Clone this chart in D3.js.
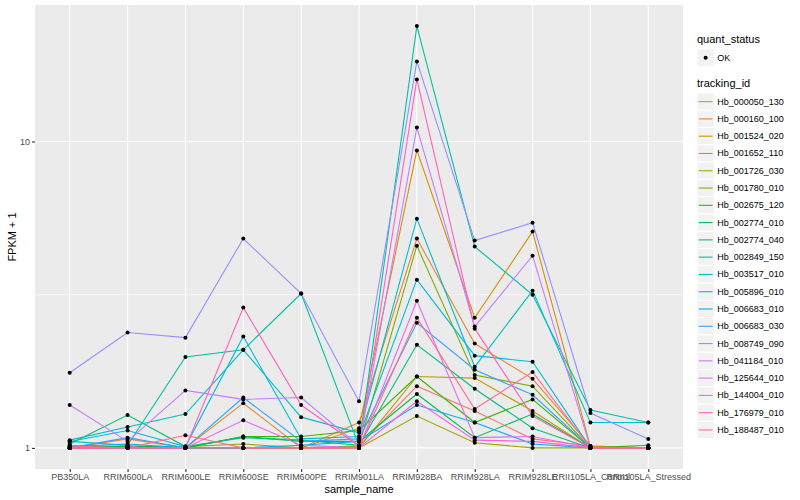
<!DOCTYPE html>
<html lang="en">
<head>
    <meta charset="UTF-8">
    <title>FPKM by sample</title>
    <style>
        body, html {
            margin: 0;
            overflow: hidden;
            background: #fff;
        }
        text {
            font-family: "Liberation Sans", Arial, sans-serif;
        }
    </style>
</head>
<body>

<script src="https://d3js.org/d3.v7.min.js"></script>

<script>
    // Samples along the x axis
    const categories = ["PB350LA", "RRIM600LA", "RRIM600LE", "RRIM600SE", "RRIM600PE", "RRIM901LA",
        "RRIM928BA", "RRIM928LA", "RRIM928LE", "RRII105LA_Control", "RRII105LA_Stressed"];

    const trackingIds = ["Hb_000050_130", "Hb_000160_100", "Hb_001524_020", "Hb_001652_110", "Hb_001726_030",
        "Hb_001780_010", "Hb_002675_120", "Hb_002774_010", "Hb_002774_040", "Hb_002849_150",
        "Hb_003517_010", "Hb_005896_010", "Hb_006683_010", "Hb_006683_030", "Hb_008749_090",
        "Hb_041184_010", "Hb_125644_010", "Hb_144004_010", "Hb_176979_010", "Hb_188487_010"];

    // ggplot default hue palette for 20 levels
    const lineColors = ["#F8766D", "#EA8331", "#D89000", "#C09B00", "#A3A500", "#7CAE00", "#39B600",
        "#00BB4E", "#00BF7D", "#00C1A3", "#00BFC4", "#00BAE0", "#00B0F6", "#35A2FF", "#9590FF",
        "#C77CFF", "#E76BF3", "#FA62DB", "#FF62BC", "#FF6C91"];

    // FPKM + 1, one row per tracking id, one column per sample
    const fpkmPlusOne = [
        [1.02, 1.00, 1.00, 1.00, 1.00, 1.015, 1.59, 1.32, 1.07, 1.015, 1.00],
        [1.00, 1.07, 1.00, 1.40, 1.00, 1.21, 4.82, 2.19, 1.68, 1.015, 1.00],
        [1.01, 1.015, 1.00, 1.00, 1.00, 1.16, 9.35, 2.66, 5.08, 1.01, 1.00],
        [1.00, 1.00, 1.00, 1.00, 1.00, 1.00, 1.71, 1.69, 1.32, 1.00, 1.00],
        [1.00, 1.00, 1.01, 1.03, 1.00, 1.00, 1.27, 1.04, 1.00, 1.00, 1.00],
        [1.00, 1.00, 1.00, 1.00, 1.00, 1.015, 4.57, 1.73, 1.59, 1.00, 1.00],
        [1.00, 1.01, 1.00, 1.09, 1.09, 1.14, 1.71, 1.21, 1.44, 1.00, 1.02],
        [1.00, 1.015, 1.00, 1.09, 1.05, 1.05, 1.50, 1.08, 1.29, 1.00, 1.00],
        [1.03, 1.28, 1.01, 1.08, 1.06, 1.02, 2.17, 1.56, 1.16, 1.00, 1.00],
        [1.05, 1.02, 1.98, 2.09, 3.19, 1.015, 23.8, 4.54, 3.16, 1.33, 1.21],
        [1.06, 1.17, 1.29, 2.09, 1.26, 1.12, 5.60, 1.84, 3.26, 1.21, 1.21],
        [1.05, 1.14, 1.01, 2.31, 1.07, 1.09, 3.54, 2.00, 1.91, 1.00, 1.00],
        [1.01, 1.03, 1.00, 1.00, 1.02, 1.05, 1.38, 1.21, 1.03, 1.00, 1.00],
        [1.00, 1.08, 1.00, 1.46, 1.05, 1.07, 2.56, 1.80, 1.49, 1.00, 1.00],
        [1.76, 2.38, 2.29, 4.82, 3.19, 1.42, 18.25, 4.75, 5.43, 1.30, 1.07],
        [1.38, 1.05, 1.54, 1.44, 1.46, 1.015, 11.1, 2.49, 4.24, 1.00, 1.00],
        [1.00, 1.00, 1.00, 1.23, 1.02, 1.00, 3.02, 1.08, 1.09, 1.00, 1.00],
        [1.00, 1.00, 1.00, 1.00, 1.00, 1.00, 1.42, 1.06, 1.05, 1.00, 1.00],
        [1.00, 1.00, 1.00, 2.87, 1.38, 1.015, 15.94, 2.45, 1.27, 1.00, 1.00],
        [1.015, 1.00, 1.10, 1.00, 1.00, 1.00, 2.66, 1.34, 1.77, 1.00, 1.00]
    ];

    const yTicks = [1, 10];
    const statusLevels = ["OK"];

    const width = 800, height = 500;
    const panel = {left: 35, right: 683, top: 5, bottom: 469};

    const svg = d3.create("svg")
        .attr("width", width)
        .attr("height", height);

    // x: discrete positions with ggplot's 0.6 expansion
    const x = d3.scalePoint()
        .domain(categories)
        .range([panel.left, panel.right])
        .padding(0.6);

    // y: log10 scale, expanded 5% each side in log space
    const logExt = d3.extent(fpkmPlusOne.flat(), v => Math.log10(v));
    const pad = (logExt[1] - logExt[0]) * 0.05;
    const y = d3.scaleLog()
        .domain([Math.pow(10, logExt[0] - pad), Math.pow(10, logExt[1] + pad)])
        .range([panel.bottom, panel.top]);

    // Panel background
    svg.append("rect")
        .attr("x", panel.left)
        .attr("y", panel.top)
        .attr("width", panel.right - panel.left)
        .attr("height", panel.bottom - panel.top)
        .attr("fill", "#EBEBEB");

    // Minor gridline halfway between log breaks
    svg.append("line")
        .attr("x1", panel.left).attr("x2", panel.right)
        .attr("y1", y(Math.sqrt(10))).attr("y2", y(Math.sqrt(10)))
        .attr("stroke", "#fff")
        .attr("stroke-width", 0.55);

    // Major gridlines
    svg.selectAll(".ygrid")
        .data(yTicks)
        .enter().append("line")
        .attr("x1", panel.left).attr("x2", panel.right)
        .attr("y1", d => y(d)).attr("y2", d => y(d))
        .attr("stroke", "#fff")
        .attr("stroke-width", 1.1);

    svg.selectAll(".xgrid")
        .data(categories)
        .enter().append("line")
        .attr("x1", d => x(d)).attr("x2", d => x(d))
        .attr("y1", panel.top).attr("y2", panel.bottom)
        .attr("stroke", "#fff")
        .attr("stroke-width", 1.1);

    // Lines, one per tracking id
    const line = d3.line()
        .x((d, i) => x(categories[i]))
        .y(d => y(d));

    svg.append("g")
        .selectAll("path")
        .data(fpkmPlusOne)
        .enter().append("path")
        .attr("d", line)
        .attr("fill", "none")
        .attr("stroke", (d, i) => lineColors[i])
        .attr("stroke-width", 1.1);

    // Points on top
    const pts = fpkmPlusOne.flatMap(row => row.map((v, i) => ({cat: categories[i], v: v})));
    svg.append("g")
        .selectAll("circle")
        .data(pts)
        .enter().append("circle")
        .attr("cx", d => x(d.cat))
        .attr("cy", d => y(d.v))
        .attr("r", 2)
        .attr("fill", "black");

    // Axes
    const yAxis = d3.axisLeft(y)
        .tickValues(yTicks)
        .tickFormat(d3.format("d"))
        .tickSize(3)
        .tickPadding(2);

    const gy = svg.append("g")
        .attr("transform", `translate(${panel.left},0)`)
        .call(yAxis);

    const xAxis = d3.axisBottom(x)
        .tickSize(3)
        .tickPadding(2);

    const gx = svg.append("g")
        .attr("transform", `translate(0,${panel.bottom})`)
        .call(xAxis);

    [gx, gy].forEach(g => {
        g.select(".domain").remove();
        g.selectAll(".tick line").attr("stroke", "#333333").attr("stroke-width", 1.1);
        g.selectAll(".tick text")
            .attr("fill", "#4D4D4D")
            .style("font-size", "9px")
            .style("font-family", "'Liberation Sans', Arial, sans-serif");
    });

    // Axis titles
    svg.append("text")
        .attr("x", (panel.left + panel.right) / 2)
        .attr("y", 493)
        .attr("text-anchor", "middle")
        .style("font-size", "11px")
        .text("sample_name");

    svg.append("text")
        .attr("transform", `translate(16,${(panel.top + panel.bottom) / 2}) rotate(-90)`)
        .attr("text-anchor", "middle")
        .style("font-size", "11px")
        .text("FPKM + 1");

    // Legend: quant_status
    const keySize = 17.28;
    const legX = 697;

    svg.append("text")
        .attr("x", legX)
        .attr("y", 43)
        .style("font-size", "11px")
        .text("quant_status");

    const statusKey = svg.append("g").selectAll("g")
        .data(statusLevels)
        .enter().append("g")
        .attr("transform", (d, i) => `translate(${legX},${49 + i * keySize})`);

    statusKey.append("rect")
        .attr("width", keySize).attr("height", keySize)
        .attr("fill", "#F2F2F2")
        .attr("stroke", "#fff");

    statusKey.append("circle")
        .attr("cx", keySize / 2).attr("cy", keySize / 2)
        .attr("r", 2)
        .attr("fill", "black");

    statusKey.append("text")
        .attr("x", keySize + 3)
        .attr("y", keySize / 2 + 3)
        .style("font-size", "9px")
        .text(d => d);

    // Legend: tracking_id
    svg.append("text")
        .attr("x", legX)
        .attr("y", 87)
        .style("font-size", "11px")
        .text("tracking_id");

    const idKey = svg.append("g").selectAll("g")
        .data(trackingIds)
        .enter().append("g")
        .attr("transform", (d, i) => `translate(${legX},${93 + i * keySize})`);

    idKey.append("rect")
        .attr("width", keySize).attr("height", keySize)
        .attr("fill", "#F2F2F2")
        .attr("stroke", "#fff");

    idKey.append("line")
        .attr("x1", 1.7).attr("x2", keySize - 1.7)
        .attr("y1", keySize / 2).attr("y2", keySize / 2)
        .attr("stroke", (d, i) => lineColors[i])
        .attr("stroke-width", 1.1);

    idKey.append("text")
        .attr("x", keySize + 3)
        .attr("y", keySize / 2 + 3)
        .style("font-size", "9px")
        .text(d => d);

    document.body.appendChild(svg.node());
</script>

</body>
</html>
